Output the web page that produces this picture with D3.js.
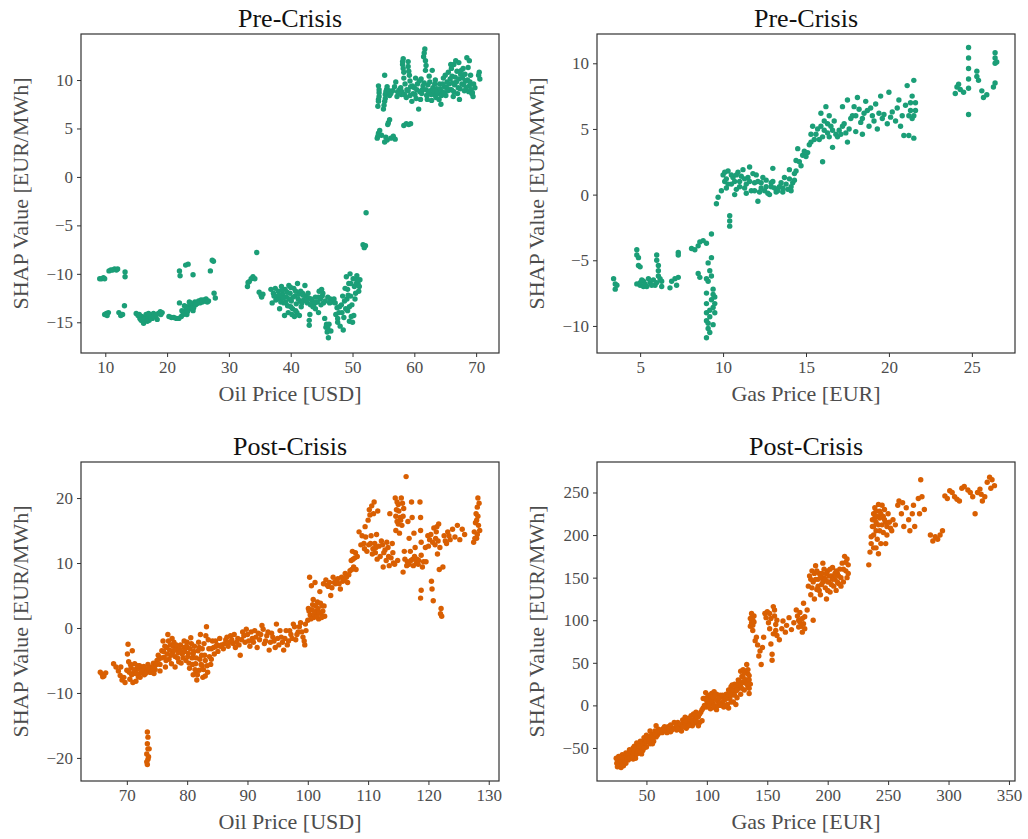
<!DOCTYPE html>
<html>
<head>
<meta charset="utf-8">
<script src="https://cdn.jsdelivr.net/npm/d3@7"></script>
<style>
  body { margin: 0; background: #fff; }
  text { font-family: "Liberation Serif", "DejaVu Serif", serif; }
</style>
</head>
<body>
<svg id="chart" width="1028" height="839"></svg>
<script>
// values
var oilPre = [
  [9.1,-10.5],[9.4,-10.5],[9.7,-10.4],[9.9,-10.5],
  [10.6,-9.7],[10.9,-9.6],[11.2,-9.6],[11.5,-9.5],[11.8,-9.6],[12.0,-9.5],
  [13.2,-9.8],[13.2,-10.3],
  [9.9,-14.2],[10.2,-14.1],[10.5,-14.0],[10.3,-14.3],
  [12.2,-14.0],[12.5,-14.3],[12.8,-14.2],[13.1,-13.3],
  [15.0,-14.1],[15.3,-14.3],[15.6,-14.6],[15.9,-14.4],[16.1,-14.9],[16.2,-15.1],[16.4,-14.5],[16.6,-14.2],[16.9,-14.5],[17.1,-14.8],
  [17.3,-14.3],[17.6,-14.6],[17.8,-14.1],[18.1,-14.4],[18.4,-14.7],[18.6,-14.1],[18.9,-13.9],[19.2,-14.0],[17.0,-14.1],[16.5,-14.7],[15.5,-14.2],
  [15.8,-14.8],[16.3,-14.7],[16.8,-14.9],[17.4,-14.5],[17.9,-14.4],[18.3,-14.2],[19.0,-14.2],
  [20.3,-14.4],[20.7,-14.5],[21.1,-14.5],[21.5,-14.6],[21.9,-14.6],[22.3,-14.4],[22.6,-14.2],[22.9,-14.0],[23.1,-13.7],[23.4,-13.4],
  [23.2,-14.2],[22.8,-13.3],[23.7,-13.6],[24.0,-13.2],[24.3,-13.5],[24.5,-12.9],[24.8,-13.1],[25.1,-12.8],[25.5,-12.7],[25.9,-12.7],
  [26.3,-12.6],[26.7,-12.8],[22.0,-13.0],[23.6,-12.9],[24.2,-13.8],
  [22.4,-13.8],[22.7,-14.1],[23.0,-13.4],[23.3,-13.9],[23.8,-13.0],[24.1,-13.5],[24.6,-13.2],[25.3,-13.0],[25.7,-12.9],[26.1,-12.8],[26.5,-12.9],
  [22.0,-9.7],[22.1,-10.2],[23.0,-9.1],[23.4,-9.0],[24.2,-10.1],[27.0,-9.7],[27.3,-8.6],[27.5,-8.7],[27.6,-12.0],[27.8,-12.5],
  [33.0,-11.3],[33.3,-10.8],[33.6,-10.5],[33.9,-10.3],[34.2,-10.5],[33.1,-10.9],
  [34.5,-7.8],
  [34.9,-11.9],[35.2,-12.2],[35.5,-12.1],[35.3,-12.4],
  [36.8,-11.6],[37.2,-12.0],[37.5,-11.5],[37.8,-12.3],[38.0,-11.8],[38.3,-12.6],[38.5,-11.3],[38.7,-12.1],[38.9,-13.0],[39.1,-11.6],
  [39.3,-12.4],[39.5,-13.3],[39.7,-11.2],[39.9,-12.0],[40.1,-12.8],[40.3,-13.6],[40.5,-11.5],[40.7,-12.3],[40.9,-13.1],[41.1,-11.0],
  [41.0,-14.0],[40.6,-14.4],[40.2,-14.2],[39.6,-14.0],[41.3,-12.1],[41.5,-12.8],[41.7,-13.4],[41.9,-12.0],[42.1,-12.7],[42.4,-12.3],
  [42.7,-13.0],[42.9,-12.5],[43.0,-14.8],[43.0,-15.3],[43.2,-13.2],[43.5,-12.8],[43.8,-13.1],[44.0,-12.4],[44.3,-12.9],[44.6,-11.8],
  [44.8,-12.6],[45.1,-12.3],[45.3,-13.0],[45.5,-14.6],[45.7,-15.5],[45.9,-16.0],[46.1,-16.6],[46.2,-15.2],[46.4,-12.6],[46.7,-12.9],
  [47.0,-12.6],[47.3,-14.2],[47.5,-13.5],[47.8,-14.0],[48.0,-15.4],[48.2,-13.2],[48.4,-12.3],[48.6,-14.5],[48.8,-11.5],[49.0,-10.3],
  [49.1,-12.6],[49.2,-13.8],[49.4,-11.0],[49.5,-14.9],[49.7,-12.3],[49.9,-13.2],[50.1,-10.5],[50.3,-11.3],[50.5,-12.0],[50.7,-10.2],
  [50.9,-11.0],[51.0,-11.8],[50.0,-15.0],[50.2,-14.3],[49.6,-10.0],[51.2,-10.6],[45.0,-11.6],[44.0,-13.6],[42.3,-11.2],[38.2,-13.6],
  [37.0,-13.0],[39.0,-14.3],[41.4,-14.3],[46.5,-15.9],[48.5,-15.8],
  [37.3,-12.3],[37.6,-12.7],[38.1,-12.2],[38.4,-12.9],[38.6,-11.7],[38.8,-12.5],[39.2,-12.9],[39.4,-11.9],[39.8,-12.6],[40.0,-13.4],
  [40.0,-11.4],[40.4,-12.4],[40.8,-11.8],[40.8,-13.8],[41.2,-12.6],[41.6,-11.8],[41.8,-13.0],[42.0,-12.2],[42.5,-12.8],[42.8,-12.0],
  [43.3,-12.6],[43.6,-13.4],[44.1,-12.9],[44.5,-12.4],[44.9,-13.2],[45.2,-12.0],[45.6,-12.8],[46.0,-12.4],[46.3,-13.0],[47.2,-13.0],
  [47.6,-14.6],[47.9,-13.4],[48.3,-14.0],[48.7,-12.8],[48.9,-13.6],[49.3,-12.2],[49.5,-13.4],[49.8,-14.4],[50.4,-12.6],[50.6,-11.0],
  [50.8,-10.6],[51.1,-11.3],[49.2,-11.6],[49.7,-11.0],[45.8,-15.2],[46.0,-15.6],[47.6,-15.0],[44.5,-14.0],[43.1,-14.2],
  [51.7,-7.0],[51.9,-7.3],[52.1,-7.1],[52.2,-3.7],
  [54.0,4.0],[54.2,4.5],[54.4,4.8],[54.7,4.3],[54.1,4.2],[55.2,3.6],[55.4,4.1],[55.6,3.8],[56.2,4.0],[56.6,4.2],[56.9,3.9],
  [55.8,5.6],[56.0,5.9],[55.7,5.4],[58.3,5.3],[58.7,5.5],[59.1,5.4],[59.4,5.5],
  [54.1,7.3],[54.2,8.0],[54.3,8.7],[54.2,9.4],[55.0,7.0],[55.2,7.8],[55.3,8.5],[55.2,10.5],[55.5,9.0],[56.0,8.4],
  [54.2,7.8],[54.3,8.3],[54.3,9.0],[55.1,7.4],[55.3,8.1],[55.4,8.8],[55.6,9.3],[55.9,8.9],
  [56.5,8.9],[56.8,9.3],[57.3,8.8],[57.6,9.0],[57.9,8.5],[58.1,11.6],[58.2,12.2],[58.3,10.8],[58.5,9.6],[58.7,8.2],
  [59.0,11.9],[59.2,10.5],[59.4,9.3],[59.6,7.8],[59.8,8.6],[60.0,9.2],[60.3,8.1],[60.5,9.6],[60.7,7.0],[60.9,8.8],
  [61.1,10.1],[61.3,9.0],[61.5,12.4],[61.7,13.2],[61.8,11.0],[62.0,8.4],[62.2,9.5],[62.4,10.4],[62.6,8.9],[62.8,7.9],
  [63.0,9.2],[63.2,8.5],[63.4,10.0],[63.6,9.1],[63.9,8.6],[64.1,9.6],[64.3,7.5],[64.5,8.8],[64.7,10.2],[64.9,9.3],
  [65.1,8.4],[65.3,9.8],[65.5,10.8],[65.7,9.0],[65.9,11.6],[66.1,10.4],[66.3,8.3],[66.5,9.5],[66.7,12.0],[66.9,10.9],
  [67.1,9.2],[67.3,8.0],[67.5,10.6],[67.7,9.6],[67.9,11.2],[68.1,8.9],[68.3,9.9],[68.5,12.3],[68.7,11.3],[68.9,9.4],
  [69.1,10.5],[69.3,8.6],[69.5,8.3],[69.8,9.2],[70.4,10.5],[70.6,10.1],[70.5,10.8],[61.0,8.0],[60.2,10.2],[62.9,11.0],
  [57.0,9.8],[56.2,8.6],[59.0,8.9],[64.0,8.0],[66.0,9.0],[67.0,8.6],[63.5,8.2],[58.0,8.8],[61.6,9.7],[65.0,10.5],
  [57.2,8.3],[57.5,8.6],[57.8,9.2],[58.4,8.5],[58.8,9.0],[59.3,8.4],[59.7,9.4],[60.1,8.5],[60.4,9.0],[60.8,9.9],
  [61.2,8.6],[61.4,9.4],[61.9,9.0],[62.1,8.0],[62.3,8.8],[62.5,9.8],[62.7,8.5],[63.1,8.9],[63.3,9.6],[63.7,8.8],
  [64.2,9.1],[64.4,8.4],[64.6,9.6],[64.8,8.7],[65.2,9.2],[65.4,8.9],[65.6,9.6],[65.8,10.1],[66.2,9.7],[66.4,8.8],
  [66.6,10.3],[66.8,9.8],[67.2,10.1],[67.4,9.1],[67.6,11.0],[67.8,10.2],[68.0,9.5],[68.2,10.6],[68.4,9.2],[68.6,10.0],
  [68.8,8.8],[69.0,9.8],[69.2,9.0],[69.4,8.7],[69.6,9.6],[66.4,11.6],[67.2,11.8],[68.9,12.0],[66.0,11.2],
  [58.1,11.9],[58.2,11.2],[59.0,11.4],[59.1,10.9],[61.6,12.8],[61.8,12.0],[61.9,11.5],[58.3,10.2],[59.3,9.9]
];

var gasPre = [
  [3.4,-6.4],[3.5,-6.8],[3.5,-7.2],[3.6,-6.9],
  [4.8,-4.2],[4.8,-4.6],[4.9,-4.8],[4.9,-5.4],[5.0,-5.5],[4.8,-6.8],[5.0,-6.9],[5.2,-6.6],[5.4,-7.0],[5.6,-6.7],
  [5.8,-6.5],[5.9,-6.9],[6.0,-4.6],[6.0,-5.0],[6.1,-5.4],[6.1,-5.8],[6.1,-6.2],[6.3,-6.6],[6.3,-7.0],[5.5,-6.4],[5.2,-7.0],
  [5.0,-6.7],[5.3,-6.8],[5.7,-6.9],[6.0,-6.7],[6.2,-6.4],[5.1,-6.5],
  [6.8,-7.1],[6.9,-6.6],[7.1,-6.4],[7.2,-6.9],[7.3,-6.3],[7.3,-4.4],[7.3,-4.6],
  [8.1,-4.1],[8.3,-4.2],[8.5,-3.9],[8.6,-3.6],[8.8,-3.5],[9.0,-3.7],[9.3,-3.0],[8.5,-6.0],[8.6,-6.3],
  [9.0,-6.4],[9.0,-7.5],[9.0,-9.0],[9.0,-9.6],[9.1,-10.2],[9.0,-10.9],[9.2,-9.3],[9.2,-5.8],[9.1,-5.2],[9.3,-4.8],
  [9.3,-6.2],[9.3,-8.0],[9.4,-7.2],[9.4,-8.6],[9.4,-9.9],[9.5,-7.8],[9.5,-8.3],[9.2,-10.5],
  [9.0,-8.3],[9.1,-9.8],[9.2,-8.8],[9.4,-7.6],[9.5,-9.0],[9.1,-6.6],
  [9.6,-0.7],[9.7,-0.2],[9.9,0.3],
  [10.0,1.5],[10.1,1.0],[10.2,0.5],[10.3,1.8],[10.4,-1.6],[10.4,-2.0],[10.4,-2.4],[10.5,0.8],[10.6,1.3],[10.8,0.4],
  [10.9,1.7],[11.0,1.0],[11.2,1.9],[11.3,0.5],[11.5,1.3],[11.6,2.1],[11.7,0.3],[11.9,0.9],[12.0,1.5],[12.1,-0.5],
  [12.2,0.2],[12.3,0.9],[12.5,0.3],[12.6,1.1],[12.8,0.0],[12.9,0.6],[13.0,2.0],[13.2,0.2],[13.4,0.6],[13.6,0.2],
  [13.7,1.3],[13.9,0.4],[14.0,1.9],[14.2,0.9],[14.3,1.6],[14.4,2.6],[14.5,3.5],[14.7,2.2],[14.8,3.0],[15.0,2.9],
  [15.2,3.8],[15.3,4.6],[15.4,5.2],[15.5,4.2],[15.7,5.0],[15.9,6.2],[16.0,4.4],[16.0,2.5],[16.1,5.6],[16.2,6.7],
  [16.3,4.7],[16.5,5.2],[16.6,3.6],[16.8,4.6],[17.0,4.9],[17.2,6.7],[17.3,5.4],[17.5,4.0],[17.5,7.2],[17.7,5.8],
  [17.9,6.7],[18.0,4.8],[18.1,7.4],[18.3,5.5],[18.5,6.2],[18.6,7.1],[18.8,5.2],[19.0,6.0],[19.2,6.9],[19.3,5.0],
  [19.5,7.5],[19.7,6.1],[19.9,5.4],[20.0,7.8],[20.2,6.3],[20.4,5.6],[20.6,7.2],[20.8,6.0],[20.9,4.5],[21.0,6.8],
  [21.1,8.3],[21.2,4.5],[21.3,7.0],[21.4,5.8],[21.5,8.7],[21.5,4.3],[21.6,6.4],[10.7,0.0],[11.4,0.1],[13.0,1.0],
  [14.1,0.3],[16.4,6.0],[18.4,4.6],
  [10.1,1.7],[10.2,1.2],[10.3,0.8],[10.5,1.5],[10.7,1.0],[10.8,1.5],[11.0,0.6],[11.1,1.4],[11.3,1.2],[11.4,0.8],
  [11.6,1.0],[11.8,1.6],[11.9,0.3],[12.1,1.0],[12.3,0.5],[12.4,1.3],[12.6,0.6],[12.7,0.1],[12.9,0.9],[13.1,0.5],
  [13.3,0.3],[13.5,0.9],[13.6,0.5],[13.8,0.8],[14.0,1.2],[14.1,0.6],[14.3,1.1],[14.4,1.8],[14.6,2.5],[14.9,3.3],
  [15.1,3.2],[15.3,4.0],[15.6,4.6],[15.8,4.2],[15.9,5.2],[16.1,4.9],[16.3,5.4],[16.4,4.4],[16.6,4.9],[16.7,5.6],
  [16.9,4.4],[17.1,4.6],[17.2,5.2],[17.4,4.7],[17.6,5.0],[17.8,6.0],[18.0,6.0],[18.2,6.5],[18.4,5.8],[18.7,6.4],
  [18.9,6.6],[19.1,5.6],[19.4,6.2],[19.6,5.8],[20.1,5.9],[20.5,6.6],[20.7,5.2],[21.2,6.0],[21.3,6.4],[21.4,7.5],
  [21.6,7.0],[21.5,6.0],
  [24.0,7.7],[24.1,8.2],[24.3,8.0],[24.5,7.8],[24.2,8.4],[24.8,6.1],[24.8,8.1],[24.8,8.8],[24.8,9.6],[24.8,10.4],
  [24.8,11.2],[25.3,9.4],[25.3,9.0],[25.4,8.7],[25.6,7.9],[25.7,7.4],[25.9,7.6],[26.3,8.2],[26.4,8.5],[26.4,10.0],
  [26.4,10.4],[26.4,10.8],[26.5,10.1]
];

var oilPost = [
  [65.6,-6.8],[65.9,-7.1],[66.2,-7.4],[66.5,-6.9],[66.0,-7.5],
  [67.8,-5.5],[68.2,-6.0],[68.6,-6.6],[68.9,-7.3],[69.2,-8.0],[69.5,-7.6],[69.7,-8.4],[70.0,-6.5],[70.1,-4.0],[70.2,-2.5],
  [70.3,-5.2],[70.5,-7.9],[70.7,-6.1],[70.9,-3.5],[71.1,-7.0],[71.3,-5.5],[71.5,-8.2],[71.7,-6.3],[71.9,-7.5],[72.1,-5.8],
  [72.3,-6.9],[72.6,-6.2],[72.9,-7.2],[73.2,-6.5],[73.5,-5.6],[73.8,-6.8],[74.1,-6.0],[74.4,-5.4],[74.7,-6.4],[75.0,-5.0],
  [75.2,-4.2],[75.5,-5.6],[75.8,-3.5],[76.0,-2.0],[76.2,-4.5],[76.4,-6.0],[76.6,-3.0],[76.8,-1.0],[77.0,-4.8],[77.2,-2.6],
  [77.4,-5.5],[77.6,-3.8],[77.8,-2.2],[78.0,-4.4],[78.3,-3.2],[78.6,-5.2],[78.9,-2.6],[79.2,-4.0],[79.5,-3.0],[79.8,-5.0],
  [80.0,-2.2],[80.2,-3.9],[80.4,-6.2],[80.6,-1.5],[80.8,-4.6],[81.0,-7.2],[81.2,-2.8],[81.4,-5.5],[81.6,-8.0],[81.8,-3.5],
  [82.0,-6.5],[82.2,-1.0],[82.4,-4.2],[82.6,-7.6],[82.8,-2.4],[83.0,-5.0],[83.2,0.2],[83.4,-6.8],[83.6,-3.2],[83.9,-5.6],
  [84.2,-2.0],[84.5,-4.0],[84.8,-2.8],[85.1,-3.6],[85.4,-1.6],[85.7,-2.6],[86.0,-3.2],[86.4,-1.8],[86.8,-2.8],[87.2,-1.2],
  [87.6,-2.4],[88.0,-3.0],[88.4,-1.6],[88.8,-4.2],[89.2,-0.6],[89.6,-2.2],[90.0,-1.0],[90.4,-2.8],[90.8,-1.6],[91.2,-0.4],
  [91.6,-3.0],[92.0,-1.8],[92.4,0.4],[92.8,-2.4],[93.2,-1.2],[93.6,-3.4],[94.0,-0.8],[94.4,-2.0],[94.8,0.6],[95.2,-2.6],
  [95.6,-1.4],[96.0,-3.4],[96.4,-0.4],[96.8,-2.0],[97.2,-1.0],[97.6,0.6],[98.0,-1.8],[98.4,-0.6],[98.8,0.8],[99.2,-1.4],
  [99.5,-2.6],[99.7,-0.4],[100.0,1.2],[100.1,3.0],[100.3,7.8],[100.4,2.0],[100.6,6.5],[100.8,3.6],[101.0,1.6],[101.2,7.0],
  [101.4,2.6],[101.6,4.0],[101.8,1.4],[102.0,5.6],[102.2,2.2],[102.4,3.4],[102.6,6.8],[102.8,1.8],[103.0,7.4],[103.4,6.4],
  [103.8,5.0],[104.2,7.8],[104.6,6.8],[105.0,7.6],[105.4,6.0],[105.8,7.2],[106.2,8.4],[106.6,7.0],[107.0,8.8],[107.2,10.4],
  [107.4,11.8],[107.6,9.4],[107.8,10.8],[108.0,9.0],[108.2,11.0],[108.5,14.8],[108.8,12.8],[109.0,14.2],[109.3,13.0],[109.5,15.6],
  [109.8,11.8],[110.0,16.6],[110.2,18.2],[110.4,13.0],[110.6,18.8],[110.8,12.2],[111.0,19.4],[111.2,11.6],[111.4,14.4],[111.6,18.0],
  [111.8,12.6],[112.0,11.0],[112.2,13.4],[112.5,9.4],[112.8,12.0],[113.1,13.2],[113.3,12.4],[113.5,9.6],[113.6,17.6],[113.8,10.8],
  [114.0,13.0],[114.2,10.0],[114.5,20.0],[114.6,15.0],[114.7,18.2],[114.8,16.4],[114.9,10.4],[115.0,19.0],[115.2,14.6],[115.3,17.0],
  [115.5,20.0],[115.6,15.8],[115.8,8.6],[115.9,18.4],[116.0,11.8],[116.3,23.3],[116.5,10.2],[116.6,16.4],[116.8,13.8],[117.0,11.8],
  [117.2,19.4],[117.3,17.0],[117.4,10.6],[117.6,14.6],[117.8,12.4],[118.0,10.0],[118.3,9.8],[118.6,19.4],[118.7,17.0],[118.7,15.0],
  [118.8,13.2],[118.8,11.2],[118.7,4.6],[118.8,5.8],[119.2,10.2],[119.5,12.4],[119.9,14.2],[120.2,13.6],[120.5,7.2],[120.6,6.0],
  [120.8,4.2],[120.9,15.4],[121.1,12.8],[121.3,14.8],[121.5,11.4],[121.7,16.0],[121.8,9.0],[121.9,12.4],[122.0,2.2],[122.1,3.0],
  [122.2,1.8],[122.4,9.4],[122.8,13.4],[123.2,14.8],[123.6,13.6],[124.0,15.2],[124.4,14.0],[124.8,15.8],[125.2,13.6],[125.6,15.2],
  [126.0,14.4],[127.5,13.2],[127.6,14.8],[127.8,16.2],[127.9,17.6],[128.0,13.8],[128.1,18.6],[128.2,20.0],[128.3,15.8],[128.5,15.0],
  [73.4,-16.0],[73.5,-16.8],[73.4,-17.8],[73.5,-18.6],[73.3,-19.4],[73.5,-20.2],[73.4,-21.0],[73.6,-19.8],[73.7,-18.6],[73.3,-20.6],
  [76.5,-5.0],[77.5,-1.6],[78.5,-3.8],[79.0,-5.4],[80.0,-3.0],[81.0,-4.0],[81.5,-6.6],[82.5,-5.8],[83.5,-1.8],[84.0,-4.8],
  [75.5,-6.6],[74.5,-7.0],[71.0,-8.4],[70.4,-6.8],[72.0,-6.2],[69.0,-6.0],[78.0,-6.0],[79.5,-2.0],[82.0,-3.0],[83.0,-7.4],
  [70.6,-5.6],[70.8,-7.2],[71.2,-6.4],[71.6,-7.0],[71.8,-5.8],[72.2,-7.6],[72.5,-6.6],[72.8,-5.9],[73.1,-7.0],[73.6,-6.2],
  [74.0,-6.8],[74.3,-6.3],[74.6,-5.9],[74.9,-5.6],[75.3,-4.8],[75.7,-4.6],[76.1,-3.6],[76.3,-2.8],[76.7,-4.0],[76.9,-2.0],
  [77.1,-3.4],[77.3,-4.2],[77.7,-2.8],[77.9,-3.4],[78.2,-2.6],[78.4,-4.6],[78.7,-3.2],[79.0,-3.6],[79.3,-4.6],[79.6,-3.6],
  [79.9,-2.8],[80.1,-4.4],[80.3,-5.4],[80.5,-3.2],[80.7,-2.4],[80.9,-5.6],[81.1,-3.6],[81.3,-6.4],[81.5,-4.6],[81.7,-7.2],
  [81.9,-2.2],[82.1,-4.8],[82.3,-5.6],[82.5,-3.2],[82.7,-6.4],[82.9,-4.2],[83.1,-1.2],[83.3,-5.8],[83.7,-4.4],[84.0,-3.2],
  [84.4,-3.0],[84.7,-2.0],[85.0,-2.6],[85.5,-2.8],[86.2,-2.4],[86.6,-1.4],[87.0,-2.2],[87.4,-1.8],[87.8,-1.0],[88.2,-2.2],
  [88.6,-2.6],[89.0,-1.8],[89.4,-1.2],[89.8,-0.2],[90.2,-2.0],[90.6,-0.6],[91.0,-2.2],[91.4,-1.4],[91.8,-0.8],[92.2,-1.0],
  [92.6,-0.2],[93.0,-2.0],[93.4,-0.6],[93.8,-2.2],[94.2,-1.4],[94.6,-3.0],[95.0,-1.6],[95.4,-0.4],[95.8,-2.2],[96.2,-1.6],
  [96.6,-2.6],[97.0,-0.4],[97.4,-1.6],[97.8,0.2],[98.2,-1.0],[98.6,0.2],[99.0,-0.6],[99.4,-2.0],[99.6,0.6],[100.2,2.6],
  [100.5,1.4],[100.7,2.8],[100.9,4.4],[101.1,2.2],[101.3,3.4],[101.5,1.8],[101.7,3.0],[101.9,2.4],[102.1,3.8],[102.3,1.6],
  [102.5,2.6],[102.7,3.4],[103.2,6.6],[103.6,7.0],[104.0,6.2],[104.4,7.0],[104.8,7.4],[105.2,6.8],[105.6,7.8],[106.0,7.4],
  [106.4,7.8],[106.8,8.2],[107.3,9.0],[107.5,10.6],[107.9,11.6],
  [109.4,12.2],[109.6,14.0],[110.1,12.8],[110.3,17.4],[110.5,14.2],[110.7,11.4],[110.9,17.6],[111.1,13.0],[111.3,12.4],[111.5,10.6],
  [112.4,12.8],[112.6,11.6],[113.0,10.4],[113.4,11.0],[114.1,11.6],[114.4,9.8],[114.6,17.2],[114.8,19.4],[115.0,16.0],[115.1,18.0],
  [115.4,16.6],[115.7,19.2],[115.8,17.2],[116.1,10.6],[116.4,9.6],[116.8,9.8],[117.1,10.4],[117.5,9.6],[117.7,11.0],[118.1,10.6],
  [118.4,10.4],[119.0,9.4],[119.6,10.2],[120.0,12.6],[120.4,14.4],[120.7,13.2],[121.2,13.8],[121.4,15.6],[121.6,13.4],[122.6,14.2],
  [123.0,13.0],[123.4,14.2],[128.0,16.6],[128.2,17.2],[127.7,13.8],[128.4,19.2],[128.1,14.4]
];

var gasPost = [
  [25,-62],[25.5,-68],[26,-72],[27,-65],[28,-70],[29,-73],[30,-66],[31,-71],[32,-62],[33,-68],
  [34,-57],[35,-64],[36,-52],[37,-60],[38,-55],[39,-63],[40,-48],[41,-58],[42,-52],[43,-47],
  [44,-56],[45,-50],[46,-44],[47,-53],[48,-46],[49,-40],[50,-49],[51,-43],[52,-37],[53,-45],
  [54,-39],[55,-34],[56,-42],[57,-30],[58,-24],[59,-35],[60,-28],[62,-31],[64,-27],[66,-30],
  [68,-25],[70,-31],[72,-27],[73,-20],[75,-29],[77,-24],[79,-30],[80,-17],[81,-22],[83,-27],
  [85,-15],[86,-20],[88,-24],[89,-10],[90,-16],[92,-21],[93,-13],[95,-8],[96,-18],[97,-3],
  [98,8],[99,15],[100,-2],[101,4],[102,10],[103,-4],[104,14],[105,2],[106,8],[107,-3],
  [108,13],[109,5],[110,0],[112,10],[113,3],[114,-2],[115,7],[116,13],[117,1],[118,18],
  [119,8],[120,22],[121,14],[122,4],[123,25],[124,17],[125,9],[126,30],[127,21],[128,13],
  [129,34],[130,27],[131,18],[132,40],[133,48],[133,30],[134,22],[134,37],[135,14],[135,35],
  [27,-60],[30,-58],[33,-60],[36,-58],[39,-50],[42,-44],[45,-42],[48,-38],[50,-35],[53,-30],
  [46,-57],[41,-62],[55,-45],[65,-25],[70,-23],[76,-20],[82,-14],[87,-12],[91,-8],[94,-20],
  [99,0],[103,5],[108,-5],[111,12],[116,-1],[120,4],[124,1],[128,40],[130,42],[126,20],
  [118,-3],[106,16],[60,-33],[63,-29],[67,-32],[74,-26],[78,-28],[84,-22],[58,-37],
  [26,-64],[27,-69],[28,-62],[29,-66],[30,-70],[31,-62],[32,-66],[33,-56],[34,-63],[35,-58],
  [36,-62],[37,-54],[38,-60],[39,-56],[40,-54],[41,-51],[42,-57],[43,-54],[44,-48],[45,-54],
  [46,-49],[47,-45],[48,-50],[49,-44],[50,-42],[51,-38],[52,-42],[53,-40],[54,-35],[55,-38],
  [56,-35],[57,-33],[59,-30],[61,-29],[63,-32],[65,-29],[67,-27],[69,-28],[71,-29],[73,-27],
  [75,-24],[76,-28],[78,-22],[80,-25],[82,-20],[83,-18],[85,-24],[86,-16],[88,-18],[89,-21],
  [90,-12],[91,-18],[92,-14],[93,-24],[94,-10],[96,-5],[97,8],[98,0],[99,8],[100,5],
  [101,12],[102,0],[103,12],[104,4],[105,10],[106,0],[107,12],[108,6],[109,0],[110,8],
  [111,3],[112,0],[113,12],[114,6],[115,0],[116,8],[117,10],[118,12],[119,15],[120,12],
  [121,24],[122,18],[123,12],[124,22],[125,18],[126,26],[127,28],[128,24],[129,20],[130,33],
  [131,38],[132,30],[133,25],[134,42],[134,28],[135,30],[135,20],[136,25],
  [136,102],[136,93],[137,108],[137,97],[138,88],[138,100],[139,105],[140,76],[141,80],[142,71],
  [143,58],[144,64],[145,48],[146,68],[147,80],[148,108],[149,103],[150,110],[151,97],[152,90],
  [153,72],[154,60],[154,53],[155,116],[155,84],[156,105],[157,95],[158,82],[160,77],[162,90],
  [163,99],[165,86],[166,94],[168,103],[170,89],[172,97],[174,112],[176,100],[177,109],[178,93],
  [179,86],[180,120],[181,104],[183,112],[188,100],
  [137,103],[138,94],[139,98],[152,108],[153,102],[156,112],[157,88],[158,100],[175,105],[176,92],
  [177,98],[179,102],[180,96],[181,90],
  [184,140],[185,152],[186,130],[187,158],[188,145],[189,125],[190,164],[191,136],[192,148],[193,155],
  [194,130],[195,142],[196,167],[197,150],[198,138],[199,125],[200,158],[201,145],[202,133],[203,152],
  [204,162],[205,140],[206,148],[207,135],[208,155],[209,143],[210,160],[211,150],[212,167],[213,145],
  [214,175],[215,158],[216,150],[217,165],[195,155],[200,135],[205,150],[190,148],
  [186,148],[187,138],[189,155],[191,158],[192,140],[193,135],[194,150],[196,145],[197,160],[198,148],
  [199,155],[200,145],[201,152],[202,160],[203,142],[204,148],[206,155],[207,158],[208,145],[209,152],
  [211,140],[213,160],[215,168],[216,172],[217,155],
  [234,165],[235,180],[236,190],[237,210],[238,225],[238,200],[239,232],[240,205],[240,215],[241,195],
  [242,236],[242,178],[243,220],[244,190],[245,212],[246,203],[247,230],[248,215],[249,200],[250,225],
  [252,208],[254,218],[256,212],[258,235],[259,240],[261,225],[263,210],[265,232],[267,218],[268,205],
  [270,225],[271,235],[272,210],[275,243],[276,225],[277,265],[278,245],[280,230],[285,200],[287,193],
  [289,198],[291,195],[293,200],[295,205],[297,246],[299,243],[301,252],[303,250],[305,245],[307,242],
  [309,240],[311,255],[313,257],[316,253],[318,250],[320,245],[322,225],[324,250],[326,254],[328,240],
  [330,245],[332,262],[334,268],[336,265],[338,258],[335,255],[327,248],[262,238],[245,235],[237,218],
  [243,205],[248,190],
  [238,210],[239,220],[240,228],[241,222],[242,212],[243,228],[244,225],[246,222],[247,218],[249,210],
  [251,215],[253,205],[238,185],[240,185],[236,198]
];

var oilPreXTicks = [10, 20, 30, 40, 50, 60, 70];
var oilPreYTicks = [-15, -10, -5, 0, 5, 10];
var gasPreXTicks = [5, 10, 15, 20, 25];
var gasPreYTicks = [-10, -5, 0, 5, 10];
var oilPostXTicks = [70, 80, 90, 100, 110, 120, 130];
var oilPostYTicks = [-20, -10, 0, 10, 20];
var gasPostXTicks = [50, 100, 150, 200, 250, 300, 350];
var gasPostYTicks = [-50, 0, 50, 100, 150, 200, 250];

var green = "#1b9e77";
var orange = "#d95f02";

var panels = [
  {data: oilPre, title: "Pre-Crisis", xlab: "Oil Price [USD]", color: green,
   left: 81, top: 34, xd: [6.07, 73.7], yd: [-18.17, 14.75], xt: oilPreXTicks, yt: oilPreYTicks},
  {data: gasPre, title: "Pre-Crisis", xlab: "Gas Price [EUR]", color: green,
   left: 597, top: 34, xd: [2.4, 27.6], yd: [-12.06, 12.23], xt: gasPreXTicks, yt: gasPreYTicks},
  {data: oilPost, title: "Post-Crisis", xlab: "Oil Price [USD]", color: orange,
   left: 81, top: 462, xd: [62.4, 131.7], yd: [-23.55, 25.55], xt: oilPostXTicks, yt: oilPostYTicks},
  {data: gasPost, title: "Post-Crisis", xlab: "Gas Price [EUR]", color: orange,
   left: 597, top: 462, xd: [9.1, 355], yd: [-88.8, 285.8], xt: gasPostXTicks, yt: gasPostYTicks}
];

var pw = 418, ph = 319;
var svg = d3.select("#chart");

panels.forEach(function(p, i) {
  var g = svg.append("g").attr("transform", "translate(" + p.left + "," + p.top + ")");

  var x = d3.scaleLinear().domain(p.xd).range([0, pw]);
  var y = d3.scaleLinear().domain(p.yd).range([ph, 0]);

  g.append("clipPath").attr("id", "clip" + i)
    .append("rect").attr("width", pw).attr("height", ph);

  g.append("g").attr("clip-path", "url(#clip" + i + ")")
    .selectAll("circle")
    .data(p.data)
    .enter()
    .append("circle")
    .attr("cx", function(d) { return x(d[0]); })
    .attr("cy", function(d) { return y(d[1]); })
    .attr("r", 2.7)
    .attr("fill", p.color);

  var xa = g.append("g").attr("transform", "translate(0," + ph + ")")
    .call(d3.axisBottom(x).tickValues(p.xt).tickSize(4).tickPadding(4).tickFormat(d3.format("d")));
  var ya = g.append("g")
    .call(d3.axisLeft(y).tickValues(p.yt).tickSize(4).tickPadding(4).tickFormat(d3.format("d")));

  [xa, ya].forEach(function(a) {
    a.select(".domain").remove();
    a.selectAll(".tick line").attr("stroke", "#333").attr("stroke-width", 1);
    a.selectAll(".tick text")
      .attr("font-family", "Liberation Serif, serif")
      .attr("font-size", "17px")
      .attr("fill", "#4d4d4d");
  });

  g.append("rect")
    .attr("width", pw).attr("height", ph)
    .attr("fill", "none").attr("stroke", "#333").attr("stroke-width", 1.2);

  g.append("text")
    .attr("x", pw / 2).attr("y", -7)
    .attr("text-anchor", "middle")
    .attr("font-size", "26px")
    .attr("fill", "#111")
    .text(p.title);

  g.append("text")
    .attr("x", pw / 2).attr("y", ph + 48)
    .attr("text-anchor", "middle")
    .attr("font-size", "22px")
    .attr("fill", "#4d4d4d")
    .text(p.xlab);

  g.append("text")
    .attr("transform", "translate(-53," + (ph / 2) + ") rotate(-90)")
    .attr("text-anchor", "middle")
    .attr("font-size", "22px")
    .attr("fill", "#4d4d4d")
    .text("SHAP Value [EUR/MWh]");
});
</script>
</body>
</html>
